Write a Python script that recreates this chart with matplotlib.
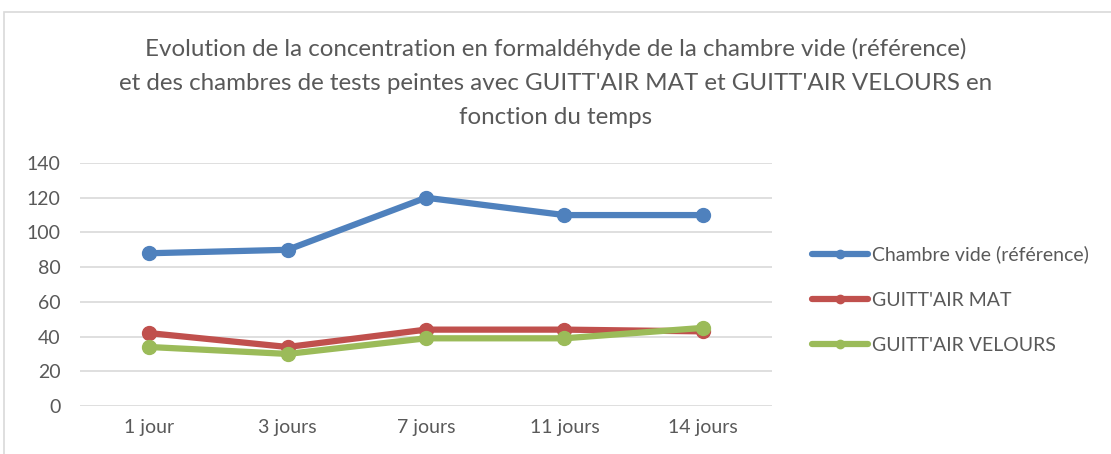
import numpy as np
import matplotlib.pyplot as plt
from matplotlib.patches import Rectangle

plt.rcParams['font.family'] = ['Lato', 'DejaVu Sans']

# donnees
jours = ['1 jour', '3 jours', '7 jours', '11 jours', '14 jours']
chambre_vide = [88, 90, 120, 110, 110]
guittair_mat = [42, 34, 44, 44, 43]
guittair_velours = [34, 30, 39, 39, 45]

series = [
    ('Chambre vide (référence)', chambre_vide, '#4f81bd'),
    ("GUITT'AIR MAT", guittair_mat, '#c0504d'),
    ("GUITT'AIR VELOURS", guittair_velours, '#9bbb59'),
]

fig = plt.figure(figsize=(11.11, 4.54), dpi=100)
fig.patches.append(Rectangle((4/1111, -0.01), 1.1, 1 - 12/454 + 0.01, transform=fig.transFigure,
                             fill=False, edgecolor='#d9d9d9', linewidth=1.2))
ax = fig.add_axes([80/1111, 1 - 406/454, (772-80)/1111, (406-163)/454])

x = np.arange(len(jours))
for nom, vals, col in series:
    ax.plot(x, vals, color=col, linewidth=4.5, marker='o', markersize=10,
            solid_capstyle='round', label=nom)

ax.set_xlim(-0.5, len(jours) - 0.5)
ax.set_ylim(0, 140)
ax.set_yticks(range(0, 141, 20))
ax.set_xticks(x)
ax.set_xticklabels(jours)
ax.grid(axis='y', color='#d9d9d9', linewidth=1.2)
ax.set_axisbelow(True)
for s in ax.spines.values():
    s.set_visible(False)
ax.tick_params(length=0, labelsize=14, colors='#595959', pad=9)
ax.tick_params(axis='y', pad=14)

titre = ["Evolution de la concentration en formaldéhyde de la chambre vide (référence)",
         "et des chambres de tests peintes avec GUITT'AIR MAT et GUITT'AIR VELOURS en",
         "fonction du temps"]
for ligne, yy in zip(titre, [49, 84, 118]):
    fig.text(0.5, 1 - yy/454, ligne, ha='center', va='center', fontsize=17.4, color='#595959')

leg = fig.legend(loc='upper left', bbox_to_anchor=(794/1111, 1 - 228/454), frameon=False,
                 fontsize=14, labelspacing=1.45, handlelength=2.9, handletextpad=0.2,
                 markerscale=0.6)
for t in leg.get_texts():
    t.set_color('#595959')

plt.savefig('out.png', dpi=100)
